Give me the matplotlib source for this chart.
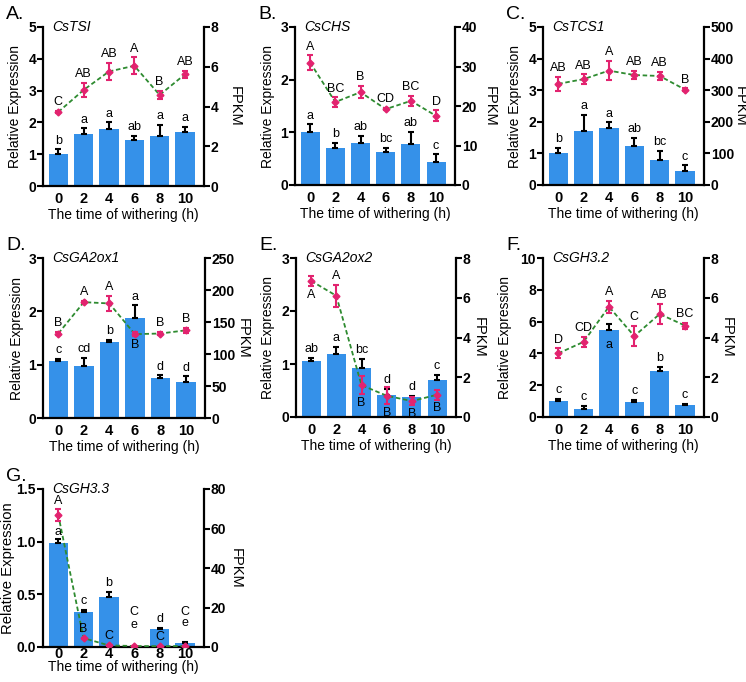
import numpy as np
import matplotlib.pyplot as plt

plt.rcParams['font.family'] = ['Liberation Sans', 'DejaVu Sans']

# x categories (hours of withering)
times = ['0', '2', '4', '6', '8', '10']

# A. CsTSI
tsi_rel = [1.0, 1.62, 1.78, 1.44, 1.57, 1.71]
tsi_rel_err = [0.15, 0.19, 0.22, 0.13, 0.35, 0.16]
tsi_rel_let = ['b', 'a', 'a', 'ab', 'a', 'a']
tsi_fpkm = [3.72, 4.83, 5.76, 6.05, 4.58, 5.62]
tsi_fpkm_err = [0.05, 0.34, 0.42, 0.42, 0.21, 0.17]
tsi_fpkm_let = ['C', 'AB', 'AB', 'A', 'B', 'AB']

# B. CsCHS
chs_rel = [1.0, 0.70, 0.80, 0.62, 0.78, 0.44]
chs_rel_err = [0.15, 0.10, 0.13, 0.08, 0.23, 0.14]
chs_rel_let = ['a', 'b', 'ab', 'bc', 'ab', 'c']
chs_fpkm = [31.0, 21.0, 23.5, 19.2, 21.3, 17.5]
chs_fpkm_err = [1.8, 1.2, 1.5, 0.3, 1.3, 1.4]
chs_fpkm_let = ['A', 'BC', 'B', 'CD', 'BC', 'D']

# C. CsTCS1
tcs_rel = [1.0, 1.70, 1.81, 1.22, 0.78, 0.45]
tcs_rel_err = [0.18, 0.52, 0.17, 0.26, 0.31, 0.17]
tcs_rel_let = ['b', 'a', 'a', 'ab', 'bc', 'c']
tcs_fpkm = [320, 335, 362, 348, 345, 302]
tcs_fpkm_err = [23, 15, 30, 13, 14, 4]
tcs_fpkm_let = ['AB', 'AB', 'A', 'AB', 'AB', 'B']

# D. CsGA2ox1
ga1_rel = [1.07, 0.97, 1.42, 1.87, 0.75, 0.68]
ga1_rel_err = [0.04, 0.15, 0.05, 0.24, 0.05, 0.10]
ga1_rel_let = ['c', 'cd', 'b', 'a', 'd', 'd']
ga1_fpkm = [132, 181, 179, 131, 132, 137]
ga1_fpkm_err = [2, 2, 12, 3, 2, 4]
ga1_fpkm_let = ['B', 'A', 'A', 'B', 'B', 'B']
ga1_fpkm_below = [False, False, False, True, False, False]

# E. CsGA2ox2
ga2_rel = [1.06, 1.19, 0.92, 0.41, 0.37, 0.70]
ga2_rel_err = [0.06, 0.14, 0.18, 0.12, 0.03, 0.09]
ga2_rel_let = ['ab', 'a', 'bc', 'd', 'd', 'c']
ga2_fpkm = [6.85, 6.1, 1.6, 1.07, 0.8, 1.12]
ga2_fpkm_err = [0.25, 0.55, 0.45, 0.43, 0.22, 0.25]
ga2_fpkm_let = ['A', 'A', 'B', 'B', 'B', 'B']
ga2_fpkm_below = [True, False, True, True, True, True]

# F. CsGH3.2
gh2_rel = [1.0, 0.52, 5.45, 0.95, 2.9, 0.78]
gh2_rel_err = [0.12, 0.20, 0.42, 0.15, 0.25, 0.05]
gh2_rel_let = ['c', 'c', 'a', 'c', 'b', 'c']
gh2_rel_below = [False, False, True, False, False, False]
gh2_fpkm = [3.2, 3.78, 5.55, 4.07, 5.18, 4.6]
gh2_fpkm_err = [0.25, 0.25, 0.3, 0.5, 0.5, 0.15]
gh2_fpkm_let = ['D', 'CD', 'A', 'C', 'AB', 'BC']

# G. CsGH3.3
gh3_rel = [0.985, 0.33, 0.47, 0.003, 0.17, 0.038]
gh3_rel_err = [0.04, 0.02, 0.05, 0.0, 0.01, 0.01]
gh3_rel_let = ['a', 'c', 'b', 'e', 'd', 'e']
gh3_fpkm = [67, 4.5, 0.8, 0.5, 0.4, 0.5]
gh3_fpkm_err = [3, 0.3, 0.2, 0.1, 0.1, 0.1]
gh3_fpkm_let = ['A', 'B', 'C', 'C', 'C', 'C']

BLUE = '#3591e9'
PINK = '#e2236f'
GREEN = '#2e8b30'

W, H = 746, 682
fig = plt.figure(figsize=(W / 100, H / 100), dpi=100)


def box(l, t, r, b):
    return [l / W, 1 - b / H, (r - l) / W, (b - t) / H]


def draw_panel(pos, tag, gene, rel, rel_err, rel_let, fpkm, fpkm_err, fpkm_let,
               lticks, rticks, lfmt='{:g}', rel_below=None, fpkm_below=None,
               rel_pad=None, fpkm_pad=None, xlabelpad=2, xtickpad=4,
               lab_x=(-0.17, 1.2), ylab_size=10):
    n = len(rel)
    x = np.arange(n)
    rel_below = rel_below or [False] * n
    fpkm_below = fpkm_below or [False] * n
    rel_pad = rel_pad or [2] * n
    fpkm_pad = fpkm_pad or [2] * n

    ax = fig.add_axes(box(*pos))
    ax.bar(x, rel, width=0.76, color=BLUE, zorder=2)
    ax.errorbar(x, rel, yerr=[np.zeros(n), rel_err], fmt='none', ecolor='black',
                elinewidth=1.5, capsize=2.5, capthick=1.5, zorder=3)
    ax.set_xlim(-0.6, n - 0.25)
    ax.set_ylim(lticks[0], lticks[-1])
    ax.set_yticks(lticks, labels=[lfmt.format(t) for t in lticks],
                  fontweight='bold', fontsize=10)
    ax.set_xticks(x, labels=times, fontweight='bold', fontsize=10.5)
    ax.tick_params(axis='y', direction='out', length=4, width=1.5, pad=1)
    ax.tick_params(axis='x', length=0, pad=xtickpad)
    for s in ['top', 'right']:
        ax.spines[s].set_visible(False)
    for s in ['left', 'bottom']:
        ax.spines[s].set_linewidth(1.6)
    ax.set_ylabel('Relative Expression', fontsize=ylab_size, va='center')
    ax.yaxis.set_label_coords(lab_x[0], 0.5)
    ax.set_xlabel('The time of withering (h)', fontsize=10, labelpad=xlabelpad)

    for i in range(n):
        if rel_below[i]:
            ax.annotate(rel_let[i], (x[i], rel[i]), xytext=(0, -6),
                        textcoords='offset points', ha='center', va='top', fontsize=9)
        else:
            ax.annotate(rel_let[i], (x[i], rel[i] + rel_err[i]), xytext=(0, rel_pad[i]),
                        textcoords='offset points', ha='center', va='bottom', fontsize=9)

    ax2 = ax.twinx()
    ax2.plot(x, fpkm, ls=(0, (2.5, 1.5)), color=GREEN, lw=1.3, zorder=3)
    ax2.errorbar(x, fpkm, yerr=fpkm_err, fmt='D', color=PINK, ms=3.5,
                 elinewidth=1.5, capsize=2.5, capthick=1.5, zorder=4)
    ax2.set_ylim(rticks[0], rticks[-1])
    ax2.set_yticks(rticks, labels=['{:g}'.format(t) for t in rticks],
                   fontweight='bold', fontsize=10)
    ax2.tick_params(axis='y', direction='out', length=4, width=1.5, pad=1)
    for s in ['top', 'left', 'bottom']:
        ax2.spines[s].set_visible(False)
    ax2.spines['right'].set_linewidth(1.6)
    ax2.set_ylabel('FPKM', fontsize=10.5, rotation=270, va='center', ha='center')
    ax2.yaxis.set_label_coords(lab_x[1], 0.5)

    for i in range(n):
        if fpkm_below[i]:
            ax2.annotate(fpkm_let[i], (x[i], fpkm[i] - fpkm_err[i]), xytext=(0, -2),
                         textcoords='offset points', ha='center', va='top', fontsize=9)
        else:
            ax2.annotate(fpkm_let[i], (x[i], fpkm[i] + fpkm_err[i]), xytext=(0, fpkm_pad[i]),
                         textcoords='offset points', ha='center', va='bottom', fontsize=9)

    ax.text(0.06, 1.0, gene, transform=ax.transAxes, fontsize=10, style='italic',
            ha='left', va='center')
    fig.text((pos[0] - 37) / W, 1 - (pos[1] - 21) / H, tag, fontsize=14,
             ha='left', va='top')


draw_panel((43, 27, 204, 186), 'A.', 'CsTSI', tsi_rel, tsi_rel_err, tsi_rel_let,
           tsi_fpkm, tsi_fpkm_err, tsi_fpkm_let, [0, 1, 2, 3, 4, 5], [0, 2, 4, 6, 8],
           lab_x=(-0.175, 1.19))
draw_panel((295, 27, 455, 185), 'B.', 'CsCHS', chs_rel, chs_rel_err, chs_rel_let,
           chs_fpkm, chs_fpkm_err, chs_fpkm_let, [0, 1, 2, 3], [0, 10, 20, 30, 40],
           lab_x=(-0.17, 1.22))
draw_panel((543, 27, 704, 185), 'C.', 'CsTCS1', tcs_rel, tcs_rel_err, tcs_rel_let,
           tcs_fpkm, tcs_fpkm_err, tcs_fpkm_let, [0, 1, 2, 3, 4, 5],
           [0, 100, 200, 300, 400, 500], lab_x=(-0.175, 1.225))
draw_panel((43, 258, 205, 418), 'D.', 'CsGA2ox1', ga1_rel, ga1_rel_err, ga1_rel_let,
           ga1_fpkm, ga1_fpkm_err, ga1_fpkm_let, [0, 1, 2, 3], [0, 50, 100, 150, 200, 250],
           fpkm_below=ga1_fpkm_below, lab_x=(-0.16, 1.235))
draw_panel((296, 258, 456, 417), 'E.', 'CsGA2ox2', ga2_rel, ga2_rel_err, ga2_rel_let,
           ga2_fpkm, ga2_fpkm_err, ga2_fpkm_let, [0, 1, 2, 3], [0, 2, 4, 6, 8],
           fpkm_below=ga2_fpkm_below, lab_x=(-0.175, 1.14))
draw_panel((543, 258, 704, 417), 'F.', 'CsGH3.2', gh2_rel, gh2_rel_err, gh2_rel_let,
           gh2_fpkm, gh2_fpkm_err, gh2_fpkm_let, [0, 2, 4, 6, 8, 10], [0, 2, 4, 6, 8],
           rel_below=gh2_rel_below, lab_x=(-0.235, 1.14))
draw_panel((43, 489, 204, 647), 'G.', 'CsGH3.3', gh3_rel, gh3_rel_err, gh3_rel_let,
           gh3_fpkm, gh3_fpkm_err, gh3_fpkm_let, [0, 0.5, 1.0, 1.5], [0, 20, 40, 60, 80],
           lfmt='{:.1f}', rel_pad=[1, 2, 2, 11, 2, 9], fpkm_pad=[1, 2, 2, 20, 2, 20],
           xlabelpad=-1, xtickpad=0, lab_x=(-0.22, 1.2), ylab_size=10.7)

fig.savefig('out.png', dpi=100)
